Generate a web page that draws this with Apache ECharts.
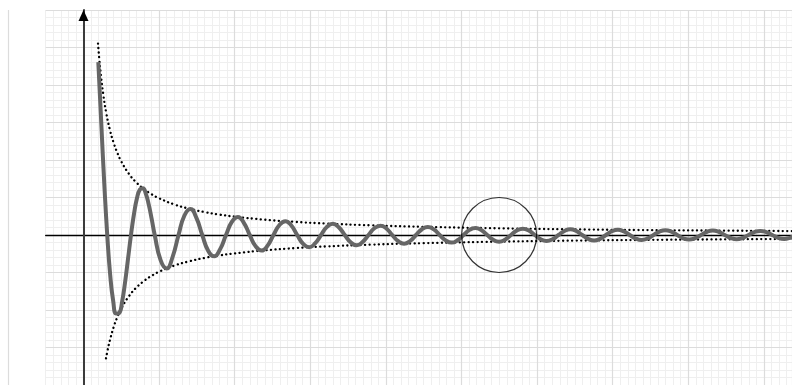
<!DOCTYPE html>
<html>
<head>
<meta charset="utf-8">
<script src="https://cdn.jsdelivr.net/npm/echarts/dist/echarts.min.js"></script>
<style>html,body{margin:0;padding:0;background:#fff}#c{width:792px;height:385px}</style>
</head>
<body>
<div id="c"></div>
<script>
// damped oscillation (x in minor-grid units, y in minor-grid units)
const waveX = [1.96,2.36,2.75,3.14,3.53,3.93,4.32,4.71,5.11,5.50,5.89,6.28,6.68,7.07,7.46,7.85,8.25,8.64,9.03,9.42,
  10.21,11.00,11.78,12.57,13.35,14.14,14.92,15.71,16.49,17.28,18.06,18.85,19.64,20.42,21.21,21.99,22.78,23.56,24.35,25.13,
  25.92,26.70,27.49,28.27,29.06,29.85,30.63,31.42,32.20,32.99,33.77,34.56,35.34,36.13,36.91,37.70,38.48,39.27,40.06,40.84,
  41.63,42.41,43.20,43.98,44.77,45.55,46.34,47.12,47.91,48.69,49.48,50.27,51.05,51.84,52.62,53.41,54.19,54.98,55.76,56.55,
  57.33,58.12,58.90,59.69,60.48,61.26,62.05,62.83,63.62,64.40,65.19,65.97,66.76,67.54,68.33,69.12,69.90,70.69,71.47,72.26,
  73.04,73.83,74.61,75.40,76.18,76.97,77.75,78.54,79.33,80.11,80.90,81.68,82.47,83.25,84.04,84.82,85.61,86.39,87.18,87.96,
  88.75,89.54,90.32,91.11,91.89,92.68,93.46,94.25];
const waveY = [23.06,14.71,6.82,0,-5.31,-8.82,-10.48,-10.40,-8.87,-6.30,-3.18,0,2.81,4.90,6.07,6.24,5.49,4.01,2.08,0,
  -3.39,-4.46,-2.94,0,2.60,3.47,2.32,0,-2.10,-2.84,-1.92,0,1.77,2.40,1.63,0,-1.52,-2.08,-1.42,0,
  1.34,1.84,1.26,0,-1.19,-1.64,-1.13,0,1.08,1.49,1.03,0,-0.98,-1.36,-0.94,0,0.90,1.25,0.87,0,
  -0.83,-1.16,-0.80,0,0.77,1.08,0.75,0,-0.72,-1.01,-0.70,0,0.68,0.95,0.66,0,-0.64,-0.89,-0.62,0,
  0.60,0.84,0.59,0,-0.57,-0.80,-0.56,0,0.54,0.76,0.53,0,-0.52,-0.73,-0.51,0,0.50,0.69,0.48,0,
  -0.47,-0.66,-0.46,0,0.45,0.64,0.45,0,-0.44,-0.61,-0.43,0,0.42,0.59,0.41,0,-0.40,-0.57,-0.40,0,
  0.39,0.55,0.38,0,-0.38,-0.53,-0.37,0];
// dotted envelopes
const envUpperX = [1.92,2.1,2.3,2.6,3,3.5,4,4.5,5,6,7,8,9,10,12,14,16,18,20,24,28,32,38,45,55,65,75,85,94];
const envUpperY = [25.52,23.33,21.30,18.85,16.33,14.00,12.25,10.89,9.80,8.17,7.00,6.13,5.44,4.90,4.08,3.50,3.06,2.72,2.45,2.04,1.75,1.53,1.29,1.09,0.89,0.75,0.65,0.58,0.52];
const envLowerX = [2.98,3.2,3.5,4,4.5,5,6,7,8,9,10,12,14,16,18,20,24,28,32,38,45,55,65,75,85,94];
const envLowerY = [-16.44,-15.31,-14.00,-12.25,-10.89,-9.80,-8.17,-7.00,-6.13,-5.44,-4.90,-4.08,-3.50,-3.06,-2.72,-2.45,-2.04,-1.75,-1.53,-1.29,-1.09,-0.89,-0.75,-0.65,-0.58,-0.52];
// highlighted point (circle)
const markerCenter = [54.98, 0];
// axis ranges
const xMin = -5, xMax = 93.72, yMin = -20, yMax = 30;

const zip = (a, b) => a.map((v, i) => [v, b[i]]);
const box = { top: 10, right: 0, bottom: -3.2 };
const noDecor = { axisLine: { show: false }, axisTick: { show: false }, axisLabel: { show: false } };
const minorLine = { show: true, lineStyle: { color: '#efefef', width: 1 } };
const majorLine = { show: true, lineStyle: { color: '#dcdcdc', width: 1.2 } };

const chart = echarts.init(document.getElementById('c'), null, { renderer: 'canvas' });
chart.setOption({
  animation: false,
  grid: [
    Object.assign({ left: 45.7 }, box), // minor grid
    Object.assign({ left: 45.7 }, box), // major horizontal
    Object.assign({ left: 7.9 }, box),  // major vertical
    Object.assign({ left: 83.5 }, box), // data
    Object.assign({ left: 45.7 }, box)  // x axis line
  ],
  xAxis: [
    Object.assign({ gridIndex: 0, type: 'value', min: xMin, max: xMax, interval: 1, splitLine: minorLine, z: 0 }, noDecor),
    { gridIndex: 1, type: 'value', min: xMin, max: xMax, show: false },
    Object.assign({ gridIndex: 2, type: 'value', min: -10, max: xMax, interval: 10, splitLine: majorLine, z: 1 }, noDecor),
    { gridIndex: 3, type: 'value', min: 0, max: xMax, show: false },
    { gridIndex: 4, type: 'value', min: xMin, max: xMax, z: 5,
      axisLine: { show: true, onZero: true, lineStyle: { color: '#000', width: 1.3 } },
      axisTick: { show: false }, axisLabel: { show: false }, splitLine: { show: false } }
  ],
  yAxis: [
    Object.assign({ gridIndex: 0, type: 'value', min: yMin, max: yMax, interval: 1, splitLine: minorLine, z: 0 }, noDecor),
    Object.assign({ gridIndex: 1, type: 'value', min: yMin, max: yMax, interval: 5, splitLine: majorLine, z: 1 }, noDecor),
    { gridIndex: 2, type: 'value', min: yMin, max: yMax, show: false },
    { gridIndex: 3, type: 'value', position: 'left', min: yMin, max: yMax, z: 6,
      axisLine: { show: true, onZero: false, lineStyle: { color: '#3c3c3c', width: 2 } },
      axisTick: { show: false }, axisLabel: { show: false }, splitLine: { show: false } },
    { gridIndex: 4, type: 'value', min: yMin, max: yMax, show: false },
    { gridIndex: 3, type: 'value', position: 'left', offset: 0, min: yMin, max: yMax, z: 7,
      axisLine: { show: true, onZero: false, symbol: ['none', 'triangle'], symbolSize: [10, 11], symbolOffset: [0, -5.5],
        lineStyle: { color: '#000', width: 0.01 } },
      axisTick: { show: false }, axisLabel: { show: false }, splitLine: { show: false } }
  ],
  series: [
    { type: 'line', xAxisIndex: 3, yAxisIndex: 3, data: zip(envUpperX, envUpperY), smooth: true, symbol: 'none', z: 9,
      lineStyle: { color: '#000', width: 2.3, type: [0.1, 4.4], cap: 'round' } },
    { type: 'line', xAxisIndex: 3, yAxisIndex: 3, data: zip(envLowerX, envLowerY), smooth: true, symbol: 'none', z: 9,
      lineStyle: { color: '#000', width: 2.3, type: [0.1, 4.4], cap: 'round' } },
    { type: 'line', xAxisIndex: 3, yAxisIndex: 3, data: zip(waveX, waveY), smooth: true, symbol: 'none', z: 10,
      lineStyle: { color: '#666', width: 4 } },
    { type: 'scatter', xAxisIndex: 3, yAxisIndex: 3, data: [markerCenter], symbol: 'circle', symbolSize: 75, z: 11,
      itemStyle: { color: 'rgba(0,0,0,0)', borderColor: '#000', borderWidth: 1.2 } }
  ]
});
</script>
</body>
</html>
